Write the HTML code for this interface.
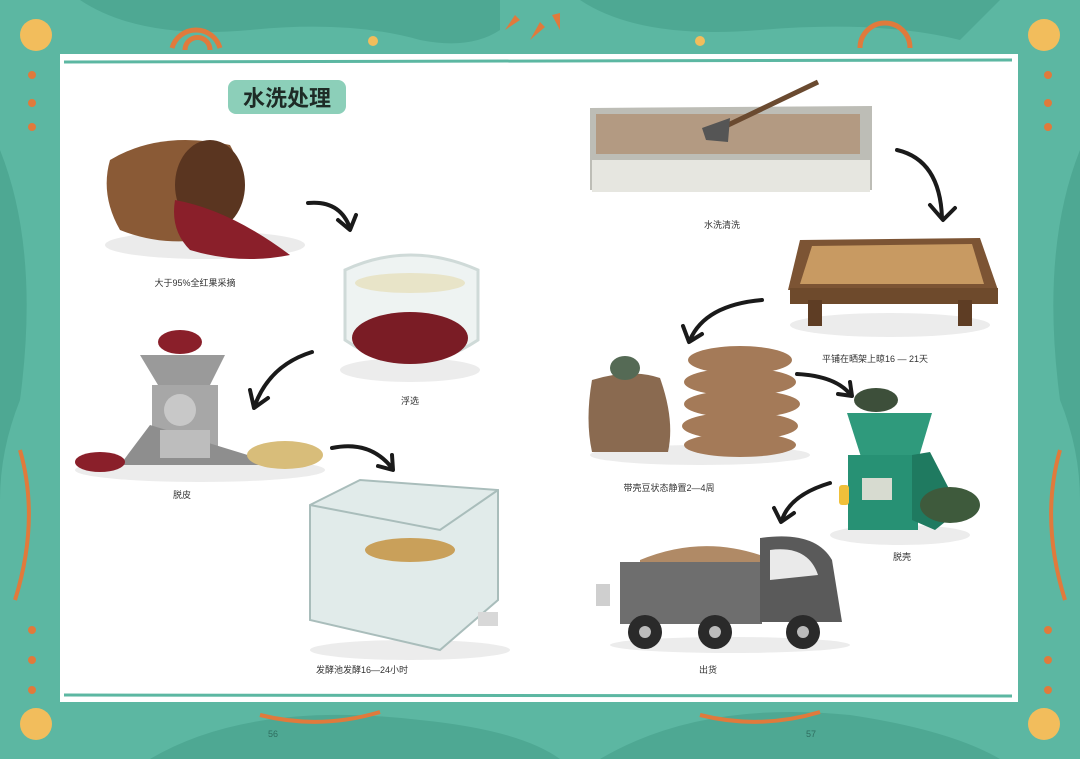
<!DOCTYPE html>
<html><head><meta charset="utf-8"><style>
html,body{margin:0;padding:0;width:1080px;height:759px;overflow:hidden;background:#5cb7a2}
svg{display:block}
text{font-family:"Liberation Sans","Noto Sans CJK SC",sans-serif}
</style></head><body>
<svg width="1080" height="759" viewBox="0 0 1080 759" xmlns="http://www.w3.org/2000/svg">
<rect width="1080" height="759" fill="#5cb7a2"/>
<!-- border decorations -->
<path d="M80 0 Q140 40 250 30 Q350 20 420 40 Q470 50 500 30 L500 0Z" fill="#4ea893"/>
<path d="M580 0 Q640 40 760 30 Q880 20 960 40 L1000 0Z" fill="#4ea893"/>
<path d="M0 150 Q40 250 20 400 Q0 450 0 500Z" fill="#4ea893"/>
<path d="M1080 150 Q1040 250 1060 400 Q1080 450 1080 500Z" fill="#4ea893"/>
<path d="M150 759 Q250 700 420 720 Q520 730 560 759Z" fill="#4ea893"/>
<path d="M600 759 Q700 700 850 715 Q950 730 1000 759Z" fill="#4ea893"/>
<circle cx="36" cy="35" r="16" fill="#f2bd5c"/>
<circle cx="1044" cy="35" r="16" fill="#f2bd5c"/>
<circle cx="36" cy="724" r="16" fill="#f2bd5c"/>
<circle cx="1044" cy="724" r="16" fill="#f2bd5c"/>
<circle cx="373" cy="41" r="5" fill="#f2bd5c"/>
<circle cx="700" cy="41" r="5" fill="#f2bd5c"/>
<path d="M172 48 A25 25 0 0 1 220 48" stroke="#e07a3c" stroke-width="5" fill="none"/>
<path d="M185 50 A12 12 0 0 1 210 50" stroke="#e07a3c" stroke-width="5" fill="none"/>
<path d="M860 48 A25 25 0 0 1 910 48" stroke="#e07a3c" stroke-width="5" fill="none"/>
<g fill="#e07a3c">
<circle cx="32" cy="75" r="4"/><circle cx="32" cy="103" r="4"/><circle cx="32" cy="127" r="4"/>
<circle cx="32" cy="630" r="4"/><circle cx="32" cy="660" r="4"/><circle cx="32" cy="690" r="4"/>
<circle cx="1048" cy="75" r="4"/><circle cx="1048" cy="103" r="4"/><circle cx="1048" cy="127" r="4"/>
<circle cx="1048" cy="630" r="4"/><circle cx="1048" cy="660" r="4"/><circle cx="1048" cy="690" r="4"/>
<path d="M505 30 l10 -15 l5 5z M530 40 l10 -18 l5 5z M560 30 l-8 -15 l8 -2z"/>
</g>
<path d="M20 450 Q40 520 15 600" stroke="#e07a3c" stroke-width="4" fill="none"/>
<path d="M1060 450 Q1040 520 1065 600" stroke="#e07a3c" stroke-width="4" fill="none"/>
<path d="M260 715 Q320 730 380 712" stroke="#e07a3c" stroke-width="4" fill="none"/>
<path d="M700 715 Q760 730 820 712" stroke="#e07a3c" stroke-width="4" fill="none"/>
<!-- white panel -->
<rect x="60" y="54" width="958" height="648" fill="#ffffff"/>
<path d="M64 62 L1012 60" stroke="#5cb7a2" stroke-width="3"/>
<path d="M64 695 L1012 696" stroke="#5cb7a2" stroke-width="3"/>
<text x="268" y="737" font-size="9" fill="#2f6e60">56</text>
<text x="806" y="737" font-size="9" fill="#2f6e60">57</text>
<!-- title -->
<rect x="228" y="80" width="118" height="34" rx="8" fill="#8ccfb9"/>
<text x="287" y="106" font-size="22" font-weight="bold" text-anchor="middle" fill="#1e2b26">水洗处理</text>
<!-- basket -->
<ellipse cx="205" cy="245" rx="100" ry="14" fill="#ebebeb"/>
<path d="M110 160 Q160 130 230 145 Q250 180 225 235 Q170 250 120 230 Q100 195 110 160Z" fill="#8a5a36"/>
<ellipse cx="210" cy="185" rx="35" ry="45" fill="#5a3520"/>
<path d="M175 200 Q230 210 290 255 Q240 265 190 250 Q170 230 175 200Z" fill="#8a1f2a"/>
<text x="195" y="286" font-size="9" text-anchor="middle" fill="#333">大于95%全红果采摘</text>
<!-- glass bowl -->
<ellipse cx="410" cy="370" rx="70" ry="12" fill="#ececec"/>
<path d="M345 270 Q410 240 478 270 L478 340 Q410 385 345 340Z" fill="#eef3f2" stroke="#cfdad8" stroke-width="3"/>
<ellipse cx="410" cy="338" rx="58" ry="26" fill="#7a1c25"/>
<ellipse cx="410" cy="283" rx="55" ry="10" fill="#e8e4c8"/>
<text x="410" y="404" font-size="9" text-anchor="middle" fill="#333">浮选</text>
<!-- pulper -->
<ellipse cx="200" cy="470" rx="125" ry="12" fill="#ececec"/>
<path d="M140 355 L225 355 L210 385 L158 385Z" fill="#9a9a9a"/>
<rect x="152" y="385" width="66" height="80" fill="#a7a7a7"/>
<path d="M120 465 L150 425 L280 465Z" fill="#8e8e8e"/>
<rect x="160" y="430" width="50" height="28" fill="#bdbdbd"/>
<circle cx="180" cy="410" r="16" fill="#c8c8c8"/>
<ellipse cx="100" cy="462" rx="25" ry="10" fill="#8a1f2a"/>
<ellipse cx="285" cy="455" rx="38" ry="14" fill="#d8bd7a"/>
<ellipse cx="180" cy="342" rx="22" ry="12" fill="#8a1f2a"/>
<text x="182" y="498" font-size="9" text-anchor="middle" fill="#333">脱皮</text>
<!-- tank -->
<ellipse cx="410" cy="650" rx="100" ry="10" fill="#ececec"/>
<path d="M310 505 L360 480 L498 490 L498 600 L440 650 L310 620Z" fill="#e1ebea" stroke="#a9bdbb" stroke-width="2"/>
<path d="M310 505 L440 530 L498 490" fill="none" stroke="#a9bdbb" stroke-width="2"/>
<ellipse cx="410" cy="550" rx="45" ry="12" fill="#c9a05a"/>
<rect x="478" y="612" width="20" height="14" fill="#d8d8d8"/>
<text x="362" y="673" font-size="9" text-anchor="middle" fill="#333">发酵池发酵16—24小时</text>
<!-- washing channel -->
<path d="M590 108 L872 106 L872 190 L590 190Z" fill="#bdbdb6"/>
<rect x="596" y="114" width="264" height="40" fill="#b39a82"/>
<rect x="592" y="160" width="278" height="32" fill="#e6e6e0"/>
<path d="M726 126 L818 82" stroke="#6a4a30" stroke-width="5"/>
<path d="M702 128 L730 118 L728 142 L706 140Z" fill="#555"/>
<text x="722" y="228" font-size="9" text-anchor="middle" fill="#333">水洗清洗</text>
<!-- drying rack -->
<ellipse cx="890" cy="325" rx="100" ry="12" fill="#ececec"/>
<path d="M800 240 L980 238 L998 290 L788 290Z" fill="#7c5434"/>
<path d="M812 246 L972 244 L984 284 L800 284Z" fill="#c89a62"/>
<rect x="790" y="288" width="208" height="16" fill="#6e4a2c"/>
<rect x="808" y="300" width="14" height="26" fill="#5e3d24"/>
<rect x="958" y="300" width="14" height="26" fill="#5e3d24"/>
<text x="875" y="362" font-size="9" text-anchor="middle" fill="#333">平铺在晒架上晾16 — 21天</text>
<!-- sacks -->
<ellipse cx="700" cy="455" rx="110" ry="10" fill="#ececec"/>
<path d="M592 380 Q630 368 660 378 Q675 420 668 452 L592 452 Q585 420 592 380Z" fill="#8a6a50"/>
<ellipse cx="625" cy="368" rx="15" ry="12" fill="#556a55"/>
<g fill="#a47a58"><ellipse cx="740" cy="360" rx="52" ry="14"/><ellipse cx="740" cy="382" rx="56" ry="14"/><ellipse cx="742" cy="404" rx="58" ry="14"/><ellipse cx="740" cy="426" rx="58" ry="14"/><ellipse cx="740" cy="445" rx="56" ry="12"/></g>
<text x="669" y="491" font-size="9" text-anchor="middle" fill="#333">带壳豆状态静置2—4周</text>
<!-- huller green -->
<ellipse cx="900" cy="535" rx="70" ry="10" fill="#ececec"/>
<ellipse cx="876" cy="400" rx="22" ry="12" fill="#3d4f3a"/>
<path d="M847 413 L932 413 L918 460 L862 460Z" fill="#2f9a7c"/>
<rect x="848" y="455" width="70" height="75" fill="#279174"/>
<path d="M912 455 L930 452 L960 510 L935 530 L912 520Z" fill="#1f7a60"/>
<ellipse cx="950" cy="505" rx="30" ry="18" fill="#3e5a3c"/>
<rect x="862" y="478" width="30" height="22" fill="#d7dbd0"/>
<rect x="839" y="485" width="10" height="20" rx="3" fill="#f0c03a"/>
<text x="902" y="560" font-size="9" text-anchor="middle" fill="#333">脱壳</text>
<!-- truck -->
<ellipse cx="730" cy="645" rx="120" ry="8" fill="#ececec"/>
<path d="M640 560 Q700 535 760 555 L760 565 L640 565Z" fill="#b08a66"/>
<rect x="620" y="562" width="142" height="62" fill="#6e6e6e"/>
<path d="M760 538 Q815 530 832 560 L842 622 L760 622Z" fill="#5a5a5a"/>
<path d="M770 550 Q808 545 818 575 L770 580Z" fill="#eaeaea"/>
<rect x="596" y="584" width="14" height="22" fill="#cfcfcf"/>
<circle cx="645" cy="632" r="17" fill="#2a2a2a"/><circle cx="645" cy="632" r="6" fill="#bbb"/>
<circle cx="715" cy="632" r="17" fill="#2a2a2a"/><circle cx="715" cy="632" r="6" fill="#bbb"/>
<circle cx="803" cy="632" r="17" fill="#2a2a2a"/><circle cx="803" cy="632" r="6" fill="#bbb"/>
<text x="708" y="673" font-size="9" text-anchor="middle" fill="#333">出货</text>
<!-- arrows -->
<g stroke="#1a1a1a" stroke-width="4" fill="none" stroke-linecap="round" stroke-linejoin="round">
<path d="M308 203 Q340 200 350 228"/><path d="M338 220 L350 230 L356 215"/>
<path d="M312 352 Q270 365 255 405"/><path d="M250 390 L254 408 L268 398"/>
<path d="M332 448 Q370 440 392 468"/><path d="M378 466 L393 470 L392 455"/>
<path d="M897 150 Q940 160 942 218"/><path d="M930 205 L943 220 L955 208"/>
<path d="M762 300 Q705 305 690 340"/><path d="M683 326 L689 342 L702 334"/>
<path d="M797 374 Q835 376 850 394"/><path d="M838 394 L852 396 L850 382"/>
<path d="M830 483 Q790 495 782 520"/><path d="M774 508 L781 522 L794 513"/>
</g>
</svg>
</body></html>
